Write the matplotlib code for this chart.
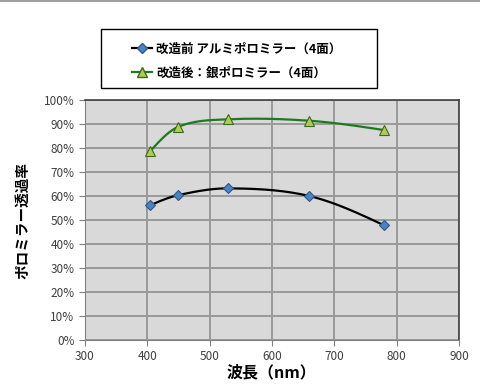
import numpy as np
import matplotlib
matplotlib.use("Agg")
import matplotlib.pyplot as plt
from matplotlib.lines import Line2D
from matplotlib.patches import Rectangle

plt.rcParams['font.family'] = ['Noto Sans CJK JP', 'DejaVu Sans']

# data
wavelength = [405, 450, 530, 660, 780]
before_alu = [0.562, 0.604, 0.632, 0.600, 0.478]
after_silver = [0.788, 0.889, 0.920, 0.914, 0.875]
label_before = "改造前 アルミポロミラー（4面）"
label_after = "改造後：銀ポロミラー（4面）"


def smooth(xs, ys, n=40):
    # cubic Hermite curve in x through the points (smoothed line)
    x = np.array(xs, float)
    y = np.array(ys, float)
    m = np.empty_like(y)
    m[1:-1] = (y[2:] - y[:-2]) / (x[2:] - x[:-2])
    m[0] = 2 * (y[1] - y[0]) / (x[1] - x[0]) - m[1]
    m[-1] = 2 * (y[-1] - y[-2]) / (x[-1] - x[-2]) - m[-2]
    m[0] = 0.5 * (m[0] + (y[1] - y[0]) / (x[1] - x[0]))
    m[-1] = 0.5 * (m[-1] + (y[-1] - y[-2]) / (x[-1] - x[-2]))
    ox, oy = [], []
    t = np.linspace(0, 1, n)
    h00 = 2 * t ** 3 - 3 * t ** 2 + 1
    h10 = t ** 3 - 2 * t ** 2 + t
    h01 = -2 * t ** 3 + 3 * t ** 2
    h11 = t ** 3 - t ** 2
    for i in range(len(x) - 1):
        h = x[i + 1] - x[i]
        ox.extend(x[i] + h * t)
        oy.extend(h00 * y[i] + h10 * h * m[i] + h01 * y[i + 1] + h11 * h * m[i + 1])
    return ox, oy


fig = plt.figure(figsize=(4.8, 3.85), dpi=100)
ax = fig.add_axes([0.177, 0.117, 0.779, 0.623])
ax.set_facecolor('#d9d9d9')

sx, sy = smooth(wavelength, before_alu)
ax.plot(sx, sy, color='black', lw=1.6, zorder=3)
ax.plot(wavelength, before_alu, ls='none', marker='D', ms=5.5,
        mfc='#4f81bd', mec='#2c5a8f', mew=0.8, zorder=4)
sx, sy = smooth(wavelength, after_silver)
ax.plot(sx, sy, color='#1f7a1f', lw=1.6, zorder=3)
ax.plot(wavelength, after_silver, ls='none', marker='^', ms=7,
        mfc='#b3c95a', mec='#3d6b1a', mew=0.8, zorder=4)

ax.set_xlim(300, 900)
ax.set_ylim(0, 1)
ax.set_xticks(np.arange(300, 901, 100))
ax.set_yticks(np.arange(0, 1.01, 0.1))
ax.set_yticklabels([f"{int(round(v * 100))}%" for v in np.arange(0, 1.01, 0.1)])
ax.grid(True, color='#9a9a9a', lw=1.4)
ax.set_axisbelow(True)
ax.tick_params(direction='out', length=4, color='#808080', labelsize=8.5,
               labelcolor='#404040')
for side in ('top', 'right'):
    ax.spines[side].set_color('#404040')
    ax.spines[side].set_linewidth(1.2)
for side in ('left', 'bottom'):
    ax.spines[side].set_color('#808080')

ax.set_xlabel("波長（nm）", fontsize=11.5, fontweight='bold', labelpad=1)
ax.set_ylabel("ポロミラー透過率", fontsize=10.5, fontweight='bold', labelpad=10)

# legend box
fig.patches.append(Rectangle((101 / 480, 1 - 88 / 385), 276 / 480, 59 / 385,
                             transform=fig.transFigure, fill=False,
                             edgecolor='black', lw=1))
handles = [Line2D([], [], color='black', lw=1.6, marker='D', ms=5,
                  mfc='#4f81bd', mec='#2c5a8f'),
           Line2D([], [], color='#1f7a1f', lw=1.6, marker='^', ms=6.5,
                  mfc='#b3c95a', mec='#3d6b1a')]
fig.legend(handles, [label_before, label_after], loc='upper left',
           bbox_to_anchor=(121 / 480, 1 - 31 / 385), frameon=False,
           prop={'size': 9, 'weight': 'bold'}, handlelength=1.6,
           handletextpad=0.3, labelspacing=0.9)

# remnant of sheet border at the top
fig.add_artist(Line2D([0, 1], [0.998, 0.998], color='#8c8c8c', lw=1.2))

fig.savefig("out.png", dpi=100)
